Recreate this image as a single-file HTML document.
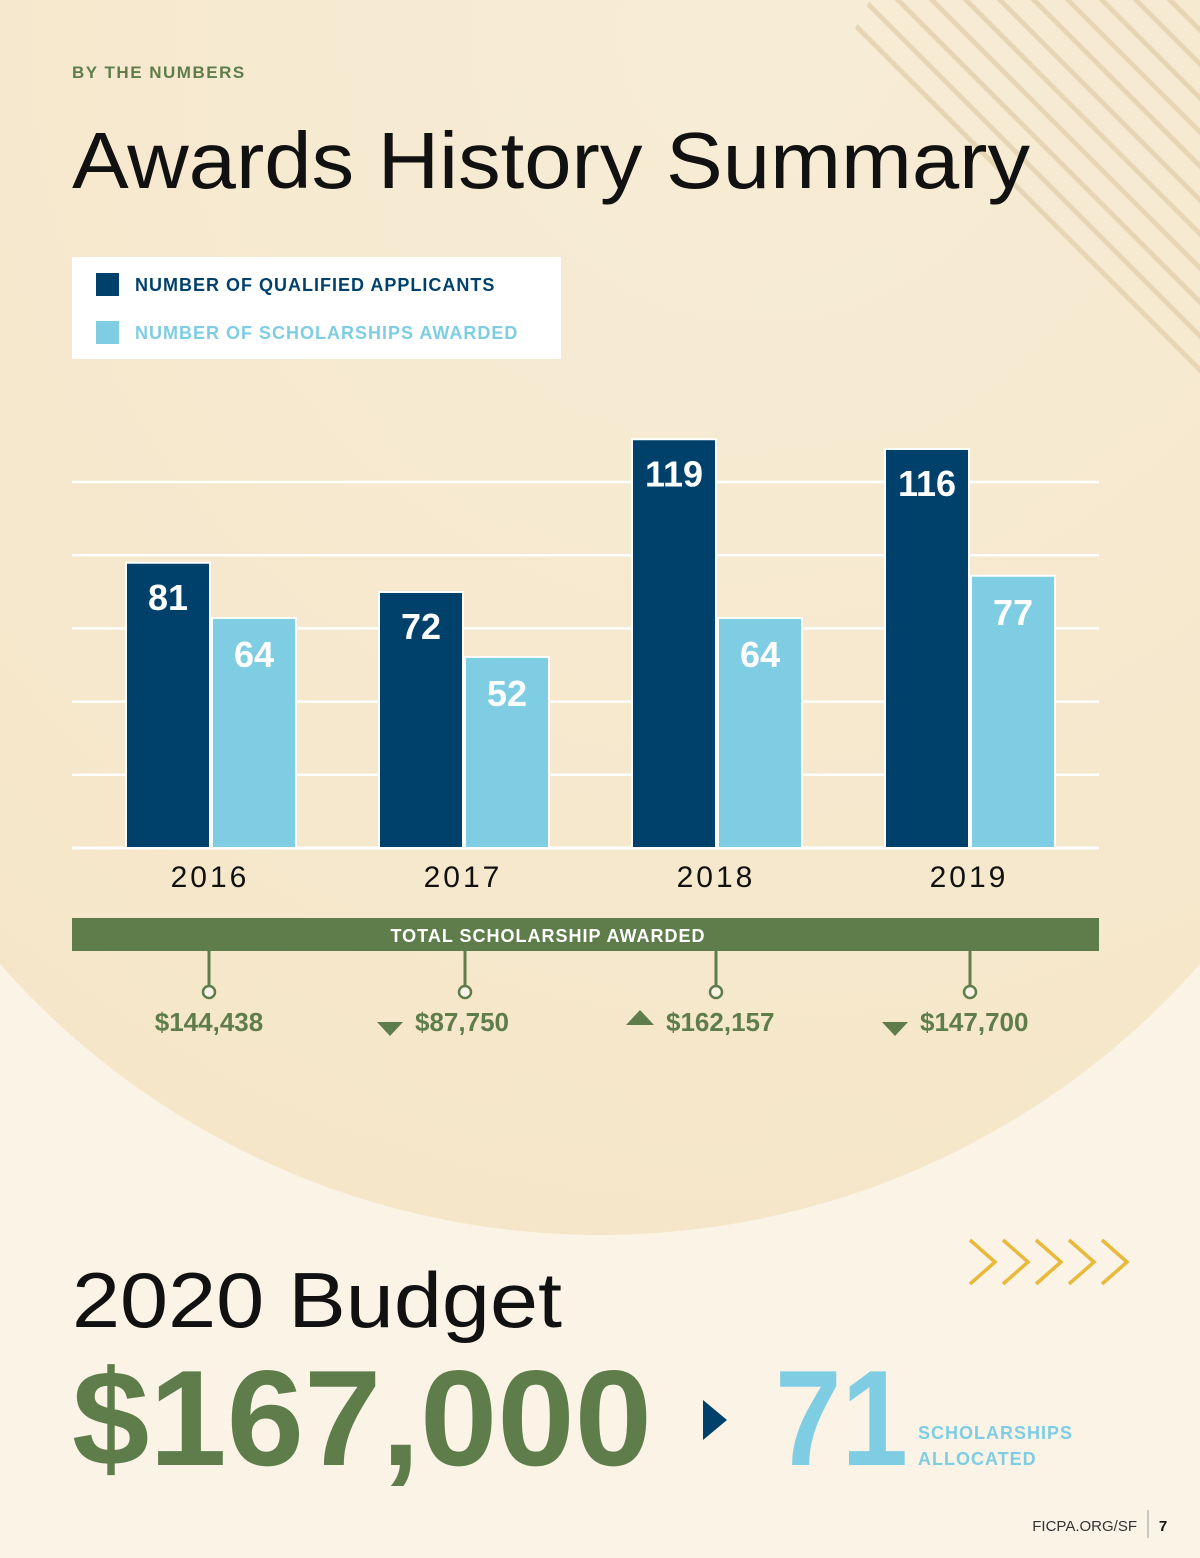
<!DOCTYPE html>
<html><head><meta charset="utf-8"><style>
html,body{margin:0;padding:0;background:#faf3e6}
svg{display:block;font-family:"Liberation Sans",sans-serif}
</style></head><body>
<svg width="1200" height="1558" viewBox="0 0 1200 1558">
<defs>
<radialGradient id="cg" cx="0.6" cy="0.25" r="0.8">
<stop offset="0" stop-color="#f7ecd6"/><stop offset="1" stop-color="#f5e6c8"/>
</radialGradient>
<clipPath id="stc"><polygon points="870,0 1200,0 1200,420 1140,420 820,95"/></clipPath>
</defs>
<rect width="1200" height="1558" fill="#faf3e6"/>
<circle cx="600" cy="435" r="800" fill="url(#cg)"/>
<g id="stripes" clip-path="url(#stc)" stroke="#e6d6b6" stroke-width="5"></g>

<text x="72" y="78" font-size="17" font-weight="bold" fill="#5e7d4b" letter-spacing="1.5">BY THE NUMBERS</text>
<text x="72" y="188" font-size="80" fill="#111" textLength="958" lengthAdjust="spacingAndGlyphs">Awards History Summary</text>

<g>
<rect x="72" y="257" width="489" height="102" fill="#fff"/>
<rect x="96" y="273" width="23" height="23" fill="#00416b"/>
<text x="135" y="291" font-size="18" font-weight="bold" fill="#00416b" letter-spacing="1">NUMBER OF QUALIFIED APPLICANTS</text>
<rect x="96" y="321" width="23" height="23" fill="#7ecde3"/>
<text x="135" y="339" font-size="18" font-weight="bold" fill="#7ecde3" letter-spacing="1">NUMBER OF SCHOLARSHIPS AWARDED</text>
</g>

<g id="grid"></g>
<g id="bars"></g>
<g id="years"></g>

<rect x="72" y="918" width="1027" height="33" fill="#5e7d4b"/>
<text x="548" y="942" font-size="18" font-weight="bold" fill="#fff" text-anchor="middle" letter-spacing="1">TOTAL SCHOLARSHIP AWARDED</text>
<g id="totals"></g>

<text x="72" y="1327" font-size="78" fill="#111" textLength="490" lengthAdjust="spacingAndGlyphs">2020 Budget</text>
<text x="72" y="1465" font-size="136" font-weight="bold" fill="#5e7d4b" textLength="580" lengthAdjust="spacingAndGlyphs">$167,000</text>
<polygon points="703,1400 727,1420 703,1440" fill="#00416b"/>
<text x="775" y="1465" font-size="136" font-weight="bold" fill="#7ecde3" textLength="133" lengthAdjust="spacingAndGlyphs">71</text>
<text x="918" y="1439" font-size="18" font-weight="bold" fill="#7ecde3" letter-spacing="1">SCHOLARSHIPS</text>
<text x="918" y="1465" font-size="18" font-weight="bold" fill="#7ecde3" letter-spacing="1">ALLOCATED</text>
<g fill="none" stroke="#e8b93a" stroke-width="3.5">
<polyline points="970,1240 995,1262 970,1284"/><polyline points="1003,1240 1028,1262 1003,1284"/><polyline points="1036,1240 1061,1262 1036,1284"/><polyline points="1069,1240 1094,1262 1069,1284"/><polyline points="1102,1240 1127,1262 1102,1284"/>
</g>
<text x="1137" y="1531" font-size="15" fill="#333" text-anchor="end">FICPA.ORG/SF</text>
<line x1="1148" y1="1510" x2="1148" y2="1538" stroke="#999" stroke-width="1"/>
<text x="1163" y="1531" font-size="15" font-weight="bold" fill="#111" text-anchor="middle">7</text>
</svg>
<script>
const years = ["2016","2017","2018","2019"];
const applicants = [81,72,119,116];
const scholarships = [64,52,64,77];
const totals = ["$144,438","$87,750","$162,157","$147,700"];
const trend = ["none","down","up","down"];
const gridValues = [0,22,44,66,88,110];

const NS="http://www.w3.org/2000/svg";
function mk(t,a,p){const e=document.createElementNS(NS,t);for(const k in a)e.setAttribute(k,a[k]);p.appendChild(e);return e;}
const base=848;
function yv(v){return 826-3.25*v;}
function yGrid(v){return base-v*(366/110);}
function xg(i){return 126+i*253;}

const st=document.getElementById('stripes');
for(let k=0;k<14;k++){const x0=830+k*34;mk('line',{x1:x0-400,y1:-400,x2:x0+420,y2:420},st);}

const grid=document.getElementById('grid');
gridValues.forEach(v=>{const l=mk('line',{x1:72,x2:1099,y1:yGrid(v),y2:yGrid(v),stroke:'#fff','stroke-width':v===0?3:2.5},grid);

});

const bars=document.getElementById('bars');
const yrs=document.getElementById('years');
const tg=document.getElementById('totals');
years.forEach((y,i)=>{
  const x=xg(i);
  const ya=yv(applicants[i]);
  const b1=mk('rect',{x:x,y:ya,width:84,height:base-ya,fill:'#00416b',stroke:'#fff','stroke-width':2},bars);
  
  
  const t1=mk('text',{x:x+42,y:ya+47,'font-size':36,'font-weight':'bold',fill:'#fff','text-anchor':'middle'},bars);t1.textContent=applicants[i];
  
  
  const ys=yv(scholarships[i]);
  const b2=mk('rect',{x:x+86,y:ys,width:84,height:base-ys,fill:'#7ecde3',stroke:'#fff','stroke-width':2},bars);
  
  
  const t2=mk('text',{x:x+128,y:ys+49,'font-size':36,'font-weight':'bold',fill:'#fff','text-anchor':'middle'},bars);t2.textContent=scholarships[i];
  
  
  const yl=mk('text',{x:x+84,y:887,'font-size':30,fill:'#111','text-anchor':'middle','letter-spacing':3},yrs);yl.textContent=y;
  
  
  const cx=[209,465,716,970][i];
  mk('line',{x1:cx,x2:cx,y1:951,y2:986,stroke:'#5e7d4b','stroke-width':3},tg);
  mk('circle',{cx:cx,cy:992,r:6,fill:'#faf3e6',stroke:'#5e7d4b','stroke-width':2.5},tg);
  const tx=mk('text',{x:cx,y:1031,'font-size':26,'font-weight':'bold',fill:'#5e7d4b','text-anchor':trend[i]==='none'?'middle':'start'},tg);
  tx.setAttribute('x', trend[i]==='none'?cx:cx-50);
  tx.textContent=totals[i];
  
  
  if(trend[i]==='down'){const p=mk('polygon',{points:`${cx-88},1022 ${cx-62},1022 ${cx-75},1036`,fill:'#5e7d4b'},tg);
    
    }
  if(trend[i]==='up'){const p=mk('polygon',{points:`${cx-90},1025 ${cx-62},1025 ${cx-76},1010`,fill:'#5e7d4b'},tg);
    
    }
});
</script>
</body></html>
